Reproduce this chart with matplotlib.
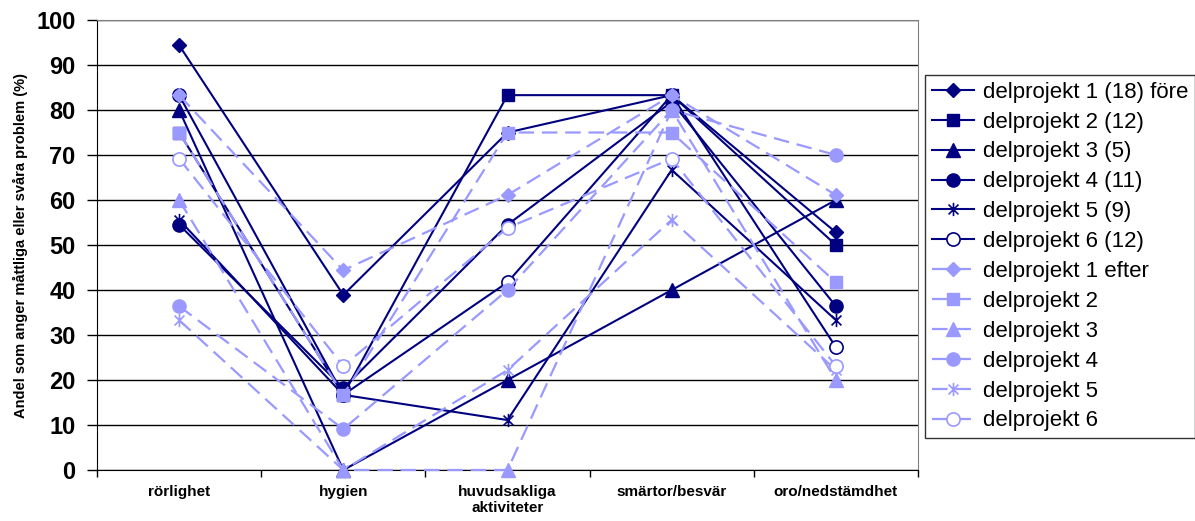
import matplotlib
matplotlib.use("Agg")
import matplotlib.pyplot as plt
from matplotlib.path import Path

plt.rcParams['font.family'] = ['Liberation Sans', 'DejaVu Sans']

categories = ['rörlighet', 'hygien', 'huvudsakliga\naktiviteter',
              'smärtor/besvär', 'oro/nedstämdhet']

# före
dp1_fore = [94.4, 38.9, 75.0, 83.3, 52.8]
dp2_fore = [75.0, 16.7, 83.3, 83.3, 50.0]
dp3_fore = [80.0, 0.0, 20.0, 40.0, 60.0]
dp4_fore = [54.5, 18.2, 54.5, 81.8, 36.4]
dp5_fore = [55.6, 16.7, 11.1, 66.7, 33.3]
dp6_fore = [83.3, 16.7, 41.7, 83.3, 27.3]

# efter
dp1_efter = [83.3, 44.4, 61.1, 83.3, 61.1]
dp2_efter = [75.0, 16.7, 75.0, 75.0, 41.7]
dp3_efter = [60.0, 0.0, 0.0, 80.0, 20.0]
dp4_efter = [36.4, 9.1, 40.0, 80.0, 70.0]
dp5_efter = [33.3, 0.0, 22.2, 55.6, 22.2]
dp6_efter = [69.2, 23.1, 53.8, 69.2, 23.1]

labels_fore = ['delprojekt 1 (18) före', 'delprojekt 2 (12)', 'delprojekt 3 (5)',
               'delprojekt 4 (11)', 'delprojekt 5 (9)', 'delprojekt 6 (12)']
labels_efter = ['delprojekt 1 efter', 'delprojekt 2', 'delprojekt 3',
                'delprojekt 4', 'delprojekt 5', 'delprojekt 6']

DARK = '#000080'
LIGHT = '#9999ff'

# star marker: vertical bar plus an X
star = Path([(0, -1), (0, 1), (-0.75, -0.75), (0.75, 0.75), (-0.75, 0.75), (0.75, -0.75)],
            [Path.MOVETO, Path.LINETO, Path.MOVETO, Path.LINETO, Path.MOVETO, Path.LINETO])

marker_styles = [
    dict(marker='D', markersize=7),
    dict(marker='s', markersize=9),
    dict(marker='^', markersize=9.5),
    dict(marker='o', markersize=9.5),
    dict(marker=star, markersize=9.5, markeredgewidth=1.2),
    dict(marker='o', markersize=9.5, markerfacecolor='white', markeredgewidth=1.2),
]

fig = plt.figure(figsize=(11.95, 5.21), dpi=100)
ax = fig.add_axes([97 / 1195, 1 - 470 / 521, 821 / 1195, 450 / 521])

x = list(range(len(categories)))
fore = [dp1_fore, dp2_fore, dp3_fore, dp4_fore, dp5_fore, dp6_fore]
efter = [dp1_efter, dp2_efter, dp3_efter, dp4_efter, dp5_efter, dp6_efter]

for vals, lab, ms in zip(fore, labels_fore, marker_styles):
    kw = dict(ms)
    kw.setdefault('markerfacecolor', DARK)
    ax.plot(x, vals, color=DARK, lw=1.5, markeredgecolor=DARK, label=lab,
            clip_on=False, zorder=3, **kw)

for vals, lab, ms in zip(efter, labels_efter, marker_styles):
    kw = dict(ms)
    kw.setdefault('markerfacecolor', LIGHT)
    ax.plot(x, vals, color=LIGHT, lw=1.6, dashes=(7, 3.5), markeredgecolor=LIGHT,
            label=lab, clip_on=False, zorder=3, **kw)

ax.set_xlim(-0.5, len(categories) - 0.5)
ax.set_ylim(0, 100)

ax.set_yticks(range(0, 101, 10))
ax.yaxis.grid(True, color='black', lw=1)
ax.set_axisbelow(True)
ax.tick_params(axis='y', direction='out', length=7, width=1, pad=8.5, labelsize=17)
for t in ax.get_yticklabels():
    t.set_fontweight('bold')

# category boundaries as major ticks, names on minor ticks
ax.set_xticks([i - 0.5 for i in range(len(categories) + 1)])
ax.set_xticklabels([])
ax.set_xticks(x, minor=True)
ax.set_xticklabels(categories, minor=True, fontsize=11, fontweight='bold')
ax.tick_params(axis='x', which='major', direction='out', length=5, width=1)
ax.tick_params(axis='x', which='minor', length=0, pad=11)

for side in ['top', 'right']:
    ax.spines[side].set_color('#808080')
for side in ['left', 'bottom']:
    ax.spines[side].set_color('black')

ax.set_ylabel('Andel som anger måttliga eller svåra problem (%)', fontsize=10.5,
              fontweight='bold', labelpad=6)

leg = fig.legend(loc='upper left', bbox_to_anchor=(925 / 1195, 1 - 75 / 521),
                 fontsize=16, frameon=True, fancybox=False, edgecolor='black',
                 handlelength=1.9, handletextpad=0.4, labelspacing=0.4,
                 borderpad=0.3, borderaxespad=0)
leg.get_frame().set_linewidth(1)

fig.savefig('out.png', dpi=100)
